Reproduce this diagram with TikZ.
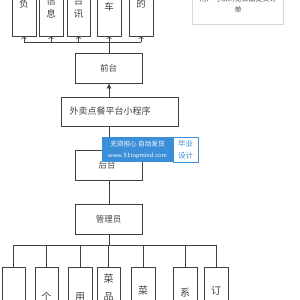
\documentclass[tikz,border=0pt]{standalone}
\usepackage{fontspec}
\newfontfamily\cjk{Noto Sans CJK SC}
\usetikzlibrary{arrows.meta,shadows}
\definecolor{ln}{HTML}{404040}
\definecolor{wmblue}{HTML}{3A8FD8}
\begin{document}
\begin{tikzpicture}[x=1pt,y=-1pt,
  box/.style={draw=ln,line width=0.8pt,inner sep=0pt,minimum width=#1},
  box/.default=24pt,
  ch/.style={font=\cjk\fontsize{9.5}{10}\selectfont,text=black!75,inner sep=0pt},
  ln/.style={draw=ln,line width=0.7pt},
  openarr/.style={ln,-{Straight Barb[length=2.2pt,width=5pt,line width=0.6pt]}},
  fillarr/.style={ln,-{Latex[length=5pt,width=5pt]}}]
\useasboundingbox (0,0) rectangle (300,300);
\clip (0,0) rectangle (300,300);
% top boxes
\node[box,minimum height=76pt] (t1) at (24,-2) {};
\node[box,minimum height=76pt] (t2) at (51,-2) {};
\node[box=23pt,minimum height=76pt] (t3) at (78.5,-2) {};
\node[box,minimum height=76pt] (t4) at (109,-2) {};
\node[box,minimum height=76pt] (t5) at (141,-2) {};
\node[ch] (t1a) at (24,4) {负};
\node[ch] (t2a) at (51,1) {信};
\node[ch] (t2b) at (51,14) {息};
\node[ch] (t3a) at (78.5,1) {台};
\node[ch] (t3b) at (78.5,14) {讯};
\node[ch] (t4a) at (109,7) {车};
\node[ch] (t5a) at (141,4) {的};
% bus above
\coordinate (b1) at (24,42);
\coordinate (b2) at (51,42);
\coordinate (b3) at (78.5,42);
\coordinate (b4) at (109,42);
\coordinate (b5) at (141,42);
\draw[ln] (b1) -- (b5);
\foreach \i in {1,...,5} {\draw[openarr] (b\i) -- (t\i.south);}
% top right note
\node[draw=black!15,fill=white,minimum width=91pt,minimum height=64pt,inner sep=0pt,
  drop shadow={opacity=0.15,shadow xshift=1pt,shadow yshift=-1pt}] (note) at (237.5,-8) {};
\node[font=\cjk\fontsize{7}{8}\selectfont,text=black!70,inner sep=0pt] (note1) at (238,-1) {用户可以浏览菜品提交订};
\node[font=\cjk\fontsize{7}{8}\selectfont,text=black!70,inner sep=0pt] (note2) at (238,10) {单};
% middle column
\node[box=67pt,minimum height=30pt] (qt) at (108.5,68) {};
\node[ch,font=\cjk\fontsize{8.5}{9}\selectfont] (qtt) at (108.5,68) {前台};
\draw[ln] (b4) -- (qt.north -| b4);
\node[box=117pt,minimum height=29pt] (wm) at (119.5,111.5) {};
\node[ch,font=\cjk\fontsize{9}{10}\selectfont] (wmt) at (110,111.5) {外卖点餐平台小程序};
\coordinate (wmtop) at (109,97);
\coordinate (wmbot) at (109,126);
\draw[fillarr] (wmtop) -- (qt.south -| wmtop);
\node[box=67pt,minimum height=30pt] (ht) at (108.5,165) {};
\node[ch,font=\cjk\fontsize{8.5}{9}\selectfont] (htt) at (107,165) {后台};
\draw[ln] (wmbot) -- (ht.north -| wmbot);
\node[box=67pt,minimum height=30pt] (gl) at (108.5,219) {};
\node[ch,font=\cjk\fontsize{8.5}{9}\selectfont] (glt) at (108.5,219) {管理员};
\draw[ln] (ht.south -| wmbot) -- (gl.north -| wmbot);
% bottom bus
\coordinate (c0) at (109,245);
\coordinate (c1) at (13.5,245);
\coordinate (c2) at (46.5,245);
\coordinate (c3) at (80,245);
\coordinate (c4) at (108.5,245);
\coordinate (c5) at (143,245);
\coordinate (c6) at (185,245);
\coordinate (c7) at (216,245);
\draw[ln] (gl.south -| c0) -- (c0);
\draw[ln] (c1) -- (c7);
\node[box=23pt,minimum height=63pt] (d1) at (13.5,298.5) {};
\node[box=23pt,minimum height=63pt] (d2) at (46.5,298.5) {};
\node[box=24pt,minimum height=63pt] (d3) at (80,298.5) {};
\node[box=23pt,minimum height=63pt] (d4) at (108.5,298.5) {};
\node[box=24pt,minimum height=63pt] (d5) at (143,298.5) {};
\node[box=24pt,minimum height=63pt] (d6) at (185,298.5) {};
\node[box=24pt,minimum height=63pt] (d7) at (216,298.5) {};
\foreach \i in {1,...,7} {\draw[ln] (c\i) -- (d\i.north);}
\node[ch,font=\cjk\fontsize{10}{11}\selectfont] (d2a) at (46.5,297) {个};
\node[ch,font=\cjk\fontsize{10}{11}\selectfont] (d3a) at (80,297) {用};
\node[ch,font=\cjk\fontsize{10}{11}\selectfont] (d4a) at (108.5,279) {菜};
\node[ch,font=\cjk\fontsize{10}{11}\selectfont] (d4b) at (108.5,297) {品};
\node[ch,font=\cjk\fontsize{10}{11}\selectfont] (d5a) at (143,291) {菜};
\node[ch,font=\cjk\fontsize{10}{11}\selectfont] (d6a) at (185,293) {系};
\node[ch,font=\cjk\fontsize{10}{11}\selectfont] (d7a) at (216,291) {订};
% watermark
\node[fill=wmblue,minimum width=71pt,minimum height=25pt,inner sep=0pt] (wk) at (137.5,149.5) {};
\node[draw=wmblue,fill=white,line width=0.6pt,minimum width=25pt,minimum height=25pt,inner sep=0pt] (wk2) at (185.5,149.5) {};
\node[font=\cjk\fontsize{6.6}{7}\selectfont,text=white,inner sep=0pt] (wk1) at (137.5,144) {无须担心 自动发货};
\node[font=\sffamily\fontsize{6.3}{7}\selectfont,text=white,inner sep=0pt] (wk3) at (137.5,155.5) {www.51topmind.com};
\node[font=\cjk\fontsize{7.5}{8}\selectfont,text=wmblue,inner sep=0pt] (wk4) at (185.5,143.5) {毕业};
\node[font=\cjk\fontsize{7.5}{8}\selectfont,text=wmblue,inner sep=0pt] (wk5) at (185.5,155.5) {设计};
\end{tikzpicture}
\end{document}
